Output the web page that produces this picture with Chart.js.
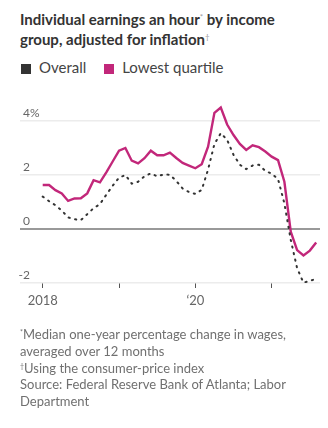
<!DOCTYPE html>
<html>
<head>
<meta charset="utf-8">
<script src="https://cdn.jsdelivr.net/npm/chart.js@4/dist/chart.umd.min.js"></script>
<style>
  body { margin: 0; width: 328px; height: 428px; background: #fff; position: relative; overflow: hidden; font-family: Lato, "Noto Sans", sans-serif; }
  #title { position: absolute; left: 20px; top: 9px; width: 300px; font-size: 15px; font-weight: 700; line-height: 20px; color: #333; }
  sup { line-height: 0; vertical-align: 5px; }
  #title sup { font-size: 8px; font-weight: 400; color: #999; }
  #legend { position: absolute; left: 21px; top: 58px; font-size: 15px; color: #444; }
  #legend span.sw { display: inline-block; width: 10px; height: 10px; margin-right: 8px; vertical-align: -1px; }
  #legend span.item { margin-right: 14px; }
  #notes { position: absolute; left: 20px; top: 326px; width: 305px; font-size: 13px; line-height: 16.8px; color: #707070; }
  #notes sup { font-size: 7px; vertical-align: 4px; }
  canvas { position: absolute; left: 0; top: 0; }
</style>
</head>
<body>
<div id="title">Individual earnings an hour<sup>*</sup> by income group, adjusted for inflation<sup>†</sup></div>
<div id="legend">
  <span class="item"><span class="sw" style="background:#333"></span>Overall</span>
  <span class="item"><span class="sw" style="background:#c2277a"></span>Lowest quartile</span>
</div>
<canvas id="chart" width="328" height="428"></canvas>
<div id="notes"><sup>*</sup>Median one-year percentage change in wages, averaged over 12 months<br><sup>†</sup>Using the consumer-price index<br>Source: Federal Reserve Bank of Atlanta; Labor Department</div>
<script>
// months from Jan 2018 to Aug 2021
var months = ['2018-01','2018-02','2018-03','2018-04','2018-05','2018-06','2018-07','2018-08','2018-09','2018-10','2018-11','2018-12',
  '2019-01','2019-02','2019-03','2019-04','2019-05','2019-06','2019-07','2019-08','2019-09','2019-10','2019-11','2019-12',
  '2020-01','2020-02','2020-03','2020-04','2020-05','2020-06','2020-07','2020-08','2020-09','2020-10','2020-11','2020-12',
  '2021-01','2021-02','2021-03','2021-04','2021-05','2021-06','2021-07','2021-08'];

var overall = [1.2, 1.03, 0.88, 0.68, 0.43, 0.36, 0.33, 0.55, 0.77, 0.92, 1.27, 1.6,
  1.9, 2.0, 1.68, 1.75, 1.95, 2.06, 1.95, 2.02, 2.01, 1.78, 1.5, 1.37,
  1.3, 1.45, 2.2, 3.15, 3.55, 3.3, 2.75, 2.38, 2.22, 2.35, 2.38, 2.15,
  2.05, 1.85, 0.95, -0.4, -1.45, -1.99, -1.92, -1.85];

var lowest = [1.63, 1.63, 1.44, 1.32, 1.04, 1.13, 1.14, 1.32, 1.81, 1.73, 2.1, 2.5,
  2.9, 3.0, 2.53, 2.43, 2.62, 2.9, 2.73, 2.73, 2.83, 2.63, 2.45, 2.35,
  2.25, 2.4, 3.05, 4.3, 4.5, 3.87, 3.48, 3.15, 2.93, 3.1, 3.03, 2.87,
  2.68, 2.55, 1.75, -0.1, -0.78, -0.98, -0.8, -0.5];

var yTicks = [-2, 0, 2, 4];
var xTickIdx = [0, 12, 24, 36];
var xTickLabels = ['2018', '', '\u201820', ''];

function pts(arr) {
  return arr.map(function(v, i) { return {x: i, y: v}; });
}

// draw y labels above the gridlines, right aligned on the number
var yLabels = {
  id: 'yLabels',
  afterDraw: function(chart) {
    var ctx = chart.ctx, y = chart.scales.y;
    ctx.save();
    ctx.font = '12px Lato, "Noto Sans", sans-serif';
    ctx.fillStyle = '#666';
    ctx.textBaseline = 'alphabetic';
    yTicks.forEach(function(t) {
      var py = y.getPixelForValue(t) - 4;
      ctx.textAlign = 'right';
      ctx.fillText(String(t), 30, py);
      if (t === 4) {
        ctx.textAlign = 'left';
        ctx.fillText('%', 30, py);
      }
    });
    ctx.restore();
  }
};

new Chart(document.getElementById('chart'), {
  type: 'line',
  data: {
    datasets: [
      {
        label: 'Overall',
        data: pts(overall),
        borderColor: '#333',
        borderWidth: 2,
        borderDash: [1.2, 5.5],
        borderCapStyle: 'round',
        pointRadius: 0,
        tension: 0,
        fill: false
      },
      {
        label: 'Lowest quartile',
        data: pts(lowest),
        borderColor: '#c2277a',
        borderWidth: 2.4,
        pointRadius: 0,
        tension: 0,
        fill: false
      }
    ]
  },
  options: {
    responsive: false,
    animation: false,
    layout: { padding: { left: 20, right: 8, top: 94, bottom: 117 } },
    plugins: { legend: { display: false }, tooltip: { enabled: false } },
    scales: {
      x: {
        type: 'linear',
        min: -3.57,
        max: 43.6,
        afterBuildTicks: function(scale) {
          scale.ticks = xTickIdx.map(function(v) { return {value: v}; });
        },
        afterFit: function(scale) { scale.height = 28; },
        grid: { drawOnChartArea: false, drawTicks: true, tickLength: 5, color: '#555', tickWidth: 1 },
        border: { display: false },
        ticks: {
          autoSkip: false,
          maxRotation: 0,
          padding: 5,
          color: '#666',
          font: { family: 'Lato, "Noto Sans", sans-serif', size: 13 },
          callback: function(v) {
            var k = xTickIdx.indexOf(v);
            return k >= 0 ? xTickLabels[k] : '';
          }
        }
      },
      y: {
        min: -2,
        max: 5,
        afterBuildTicks: function(scale) {
          scale.ticks = yTicks.map(function(v) { return {value: v}; });
        },
        afterFit: function(scale) { scale.width = 0; },
        grid: {
          drawTicks: false,
          color: function(c) { return c.tick && c.tick.value === 0 ? '#999' : '#ececec'; },
          lineWidth: function(c) { return c.tick && c.tick.value === 0 ? 2 : 1.5; }
        },
        border: { display: false },
        ticks: { display: false }
      }
    }
  },
  plugins: [yLabels]
});
</script>
</body>
</html>
